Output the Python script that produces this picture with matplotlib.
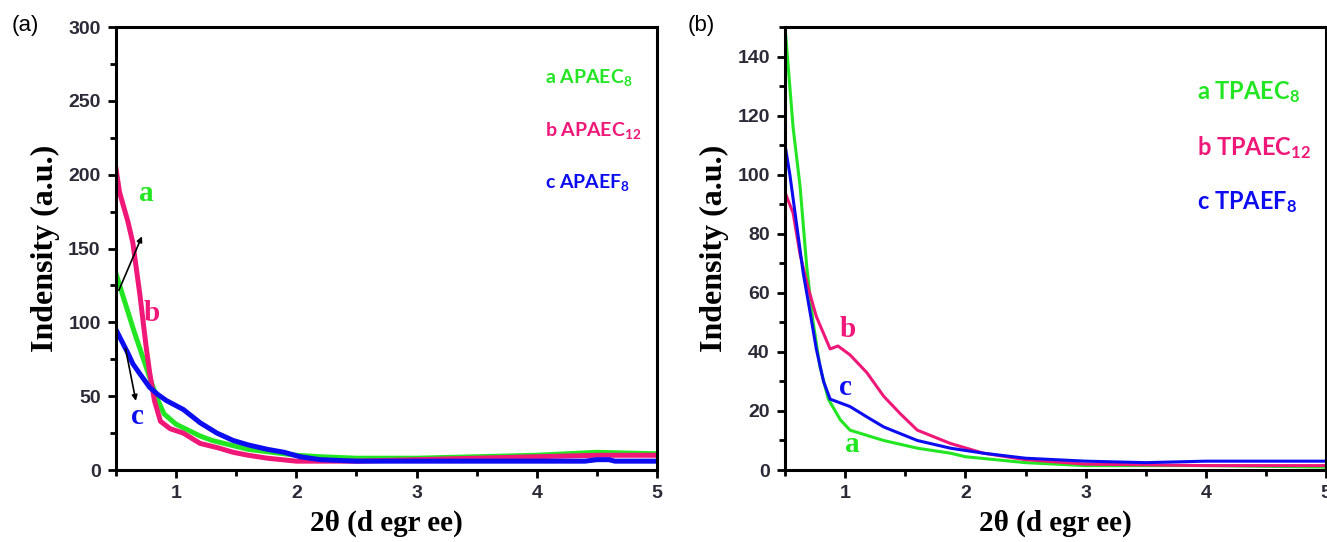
import matplotlib
matplotlib.use("Agg")
import matplotlib.pyplot as plt
from matplotlib.ticker import MultipleLocator

# ---- data ----
# panel (a)
xa_a = [0.5, 0.55, 0.6, 0.65, 0.7, 0.75, 0.8, 0.85, 0.9, 1.0, 1.1, 1.2, 1.3, 1.4,
        1.5, 1.6, 1.8, 2.0, 2.2, 2.5, 3.0, 3.5, 4.0, 4.5, 5.0]
ya_a = [133, 120, 107, 94, 82, 70, 58, 47, 38, 31, 27, 23, 20, 18,
        16, 14, 12, 10, 9, 8, 8, 9, 10, 12, 11]
xa_b = [0.5, 0.53, 0.6, 0.64, 0.7, 0.75, 0.78, 0.82, 0.87, 0.95, 1.06, 1.2, 1.35,
        1.475, 1.6, 1.76, 2.0, 2.5, 3.0, 3.5, 4.0, 4.5, 5.0]
ya_b = [204, 188, 168, 154, 118, 84, 66, 47, 33, 28, 25, 18, 15,
        12, 10, 8, 6, 6, 7, 8, 9, 10, 10]
xa_c = [0.5, 0.55, 0.6, 0.64, 0.7, 0.78, 0.85, 0.92, 1.06, 1.2, 1.34, 1.475, 1.6,
        1.76, 1.9, 2.03, 2.2, 2.5, 3.0, 3.5, 4.0, 4.4, 4.5, 4.6, 4.65, 5.0]
ya_c = [95, 87, 79, 72, 65, 56, 51, 47, 41, 32, 25, 20, 17,
        14, 12, 9, 7, 6, 6, 6, 6, 6, 7, 7, 6, 6]

# panel (b)
xb_a = [0.5, 0.567, 0.625, 0.68, 0.73, 0.79, 0.86, 0.96, 1.04, 1.2, 1.32, 1.6,
        1.875, 2.0, 2.5, 3.0, 4.0, 5.0]
yb_a = [150, 116, 96, 69, 51, 35, 24, 17, 13.5, 11.5, 10, 7.4,
        5.7, 4.5, 2.5, 1.5, 1.5, 1]
xb_b = [0.5, 0.567, 0.625, 0.69, 0.76, 0.875, 0.94, 1.04, 1.18, 1.32, 1.46, 1.6,
        1.875, 2.15, 2.5, 3.0, 4.0, 4.6, 5.0]
yb_b = [94, 87, 73, 62, 52, 41, 42, 39, 33, 25, 19, 13.5,
        9, 5.7, 3.5, 2, 1.5, 1.5, 1.5]
xb_c = [0.5, 0.54, 0.6, 0.65, 0.71, 0.76, 0.82, 0.875, 1.04, 1.18, 1.32, 1.6,
        1.875, 2.15, 2.5, 3.0, 3.5, 4.0, 5.0]
yb_c = [110, 100, 82, 67, 53, 41, 30, 24, 21.5, 18, 14.6, 10,
        7.4, 5.7, 4, 3, 2.5, 3, 3]

labels_a = ["a APAEC$_{8}$", "b APAEC$_{12}$", "c APAEF$_{8}$"]
labels_b = ["a TPAEC$_{8}$", "b TPAEC$_{12}$", "c TPAEF$_{8}$"]

GREEN, PINK, BLUE = "#22e622", "#ef1878", "#0c0cf0"
TICK_COL = "#2b2b38"

plt.rcParams["mathtext.fontset"] = "custom"
plt.rcParams["mathtext.rm"] = "Lato:bold"
plt.rcParams["mathtext.it"] = "Lato:bold"
plt.rcParams["mathtext.bf"] = "Lato:bold"

fig = plt.figure(figsize=(13.27, 5.42), dpi=100)
ax_a = fig.add_axes([0.0874, 0.1328, 0.4077, 0.8173])
ax_b = fig.add_axes([0.5916, 0.1328, 0.4077, 0.8173])


def style_axes(ax, ymax, ymajor, yminor):
    ax.set_xlim(0.5, 5)
    ax.set_ylim(0, ymax)
    ax.xaxis.set_major_locator(MultipleLocator(1))
    ax.xaxis.set_minor_locator(MultipleLocator(0.5))
    ax.yaxis.set_major_locator(MultipleLocator(ymajor))
    ax.yaxis.set_minor_locator(MultipleLocator(yminor))
    for sp in ax.spines.values():
        sp.set_linewidth(2.2)
    ax.tick_params(which="major", direction="out", length=6, width=2,
                   labelsize=14, labelcolor=TICK_COL, pad=5)
    ax.tick_params(which="minor", direction="out", length=4, width=2)
    for lab in ax.get_xticklabels() + ax.get_yticklabels():
        lab.set_fontweight("bold")
        lab.set_family("Liberation Sans")
    ax.set_xlabel("2θ (d egr ee)", family="Liberation Serif", fontweight="bold",
                  fontsize=21, labelpad=5)
    ax.set_ylabel("Indensity (a.u.)", family="Liberation Serif", fontweight="bold",
                  fontsize=23, labelpad=6)


# panel (a)
ax_a.plot(xa_a, ya_a, color=GREEN, lw=3.6)
ax_a.plot(xa_b, ya_b, color=PINK, lw=3.6)
ax_a.plot(xa_c, ya_c, color=BLUE, lw=3.6)
style_axes(ax_a, 300, 50, 25)
for txt, col, yy in zip(labels_a, [GREEN, PINK, BLUE], [0.885, 0.767, 0.648]):
    ax_a.text(0.793, yy, txt, color=col, transform=ax_a.transAxes,
              family="Lato", fontweight="bold", fontsize=14, va="center")
ax_a.text(0.75, 187, "a", color=GREEN, family="Liberation Serif",
          fontweight="bold", fontsize=21, ha="center", va="center")
ax_a.text(0.80, 106, "b", color=PINK, family="Liberation Serif",
          fontweight="bold", fontsize=21, ha="center", va="center")
ax_a.text(0.675, 36, "c", color=BLUE, family="Liberation Serif",
          fontweight="bold", fontsize=21, ha="center", va="center")
ax_a.annotate("", xy=(0.725, 160), xytext=(0.515, 120),
              arrowprops=dict(arrowstyle="-|>", color="black", lw=1.2,
                              mutation_scale=8))
ax_a.annotate("", xy=(0.67, 45), xytext=(0.575, 84),
              arrowprops=dict(arrowstyle="-|>", color="black", lw=1.2,
                              mutation_scale=8))

# panel (b)
ax_b.plot(xb_a, yb_a, color=GREEN, lw=2.2)
ax_b.plot(xb_b, yb_b, color=PINK, lw=2.2)
ax_b.plot(xb_c, yb_c, color=BLUE, lw=2.2)
style_axes(ax_b, 150, 20, 10)
for txt, col, yy in zip(labels_b, [GREEN, PINK, BLUE], [0.853, 0.729, 0.605]):
    ax_b.text(0.762, yy, txt, color=col, transform=ax_b.transAxes,
              family="Lato", fontweight="bold", fontsize=17, va="center")
ax_b.text(1.025, 47.5, "b", color=PINK, family="Liberation Serif",
          fontweight="bold", fontsize=21, ha="center", va="center")
ax_b.text(1.0, 28, "c", color=BLUE, family="Liberation Serif",
          fontweight="bold", fontsize=21, ha="center", va="center")
ax_b.text(1.06, 8.5, "a", color=GREEN, family="Liberation Serif",
          fontweight="bold", fontsize=21, ha="center", va="center")

fig.text(0.009, 0.953, "(a)", family="Liberation Sans", fontsize=16, va="center")
fig.text(0.518, 0.953, "(b)", family="Liberation Sans", fontsize=16, va="center")

fig.savefig("out.png", dpi=100)
